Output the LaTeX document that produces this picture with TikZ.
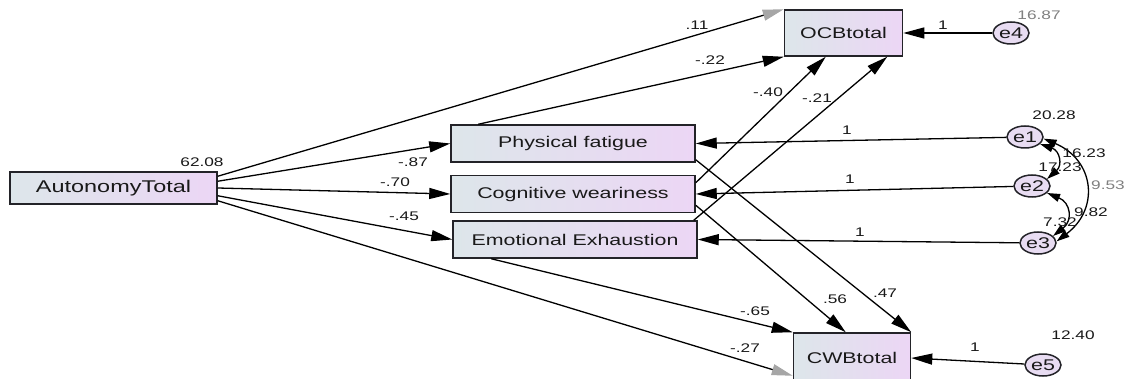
\documentclass[tikz,border=0pt]{standalone}
\usepackage{fontspec}
\setmainfont{Liberation Sans}[FakeStretch=1.38]
\usepackage{xcolor}
\usepackage{tikz}
\usetikzlibrary{shapes,arrows,arrows.meta,positioning}

\definecolor{boxleft}{RGB}{221,230,234}
\definecolor{boxright}{RGB}{236,214,245}
\definecolor{errfill}{RGB}{232,220,242}
\definecolor{framegray}{RGB}{35,35,40}

\begin{document}
\begin{tikzpicture}[x=1pt, y=-1pt, node distance=12pt, auto]
		% Define the styles
		\tikzstyle{obsvar}=[rectangle, draw=framegray, line width=1.5pt, left color=boxleft, right color=boxright, inner sep=0pt, text centered, font=\fontsize{15.5}{18}\selectfont, text=black!90]
		\tikzstyle{errvar}=[ellipse, draw=framegray, line width=1.5pt, fill=errfill, minimum width=36pt, minimum height=22pt, inner sep=0pt, font=\fontsize{15.5}{17}\selectfont, text=black!90]
		\tikzstyle{est}=[inner sep=0pt, font=\fontsize{12.5}{14}\selectfont, text=black!90]
		\tikzstyle{regr}=[line width=1.3pt, arrows = {-{Triangle[length=21pt,width=11pt]}}]
		\tikzstyle{regrfaded}=[line width=1.3pt, arrows = {-{Triangle[length=21pt,width=11pt,color=gray!70]}}]
		\tikzstyle{cov}=[line width=1.3pt, arrows = {{Triangle[length=13pt,width=8pt]}-{Triangle[length=13pt,width=8pt]}}]

		\useasboundingbox (0,0) rectangle (1126,379);

		% Define nodes
		\node (Auto) [obsvar, minimum width=207pt, minimum height=32pt, font=\fontsize{17}{20}\selectfont] at (113.5,188) {AutonomyTotal};
		\node (PF) [obsvar, minimum width=244pt, minimum height=37pt] at (573,143.5) {Physical fatigue};
		\node (CW) [obsvar, minimum width=244pt, minimum height=37pt, below=of PF] {Cognitive weariness};
		\node (EE) [obsvar, minimum width=244pt, minimum height=37pt, below=7pt of CW, xshift=2pt] {Emotional Exhaustion};
		\node (OCB) [obsvar, minimum width=118pt, minimum height=46pt] at (843.5,33) {OCBtotal};
		\node (CWB) [obsvar, minimum width=117pt, minimum height=50pt] at (852,358) {CWBtotal};

		\node (e1) [errvar] at (1025,137) {e1};
		\node (e2) [errvar] at (1032,186) {e2};
		\node (e3) [errvar] at (1038,243) {e3};
		\node (e4) [errvar] at (1011,33) {e4};
		\node (e5) [errvar] at (1043,365) {e5};

		% Define edges
		\draw[regrfaded] ([yshift=-5pt]Auto.north east) -- (OCB.north west);
		\draw[regr] ([yshift=-10pt]Auto.north east) -- (PF.west);
		\draw[regr] (Auto.east) -- (CW.west);
		\draw[regr] ([yshift=9pt]Auto.south east) -- (EE.west);
		\draw[regrfaded] ([yshift=4pt]Auto.south east) -- ([yshift=8pt]CWB.south west);

		\draw[regr] ([xshift=28pt]PF.north west) -- (OCB.south west);
		\draw[regr] ([yshift=-8pt]CW.north east) -- ([xshift=42pt]OCB.south west);
		\draw[regr] ([xshift=-4pt]EE.north east) -- ([xshift=-16pt]OCB.south east);

		\draw[regr] ([yshift=3pt]PF.south east) -- (CWB.north east);
		\draw[regr] ([yshift=8pt]CW.south east) -- ([xshift=53pt]CWB.north west);
		\draw[regr] ([xshift=39pt]EE.south west) -- (CWB.north west);

		\draw[regr] (e1) -- (PF.east);
		\draw[regr] (e2) -- (CW.east);
		\draw[regr] (e3) -- (EE.east);
		\draw[regr] (e4) -- (OCB.east);
		\draw[regr] (e5) -- (CWB.east);

		\draw[cov] (e1.-25) to[bend left=60, looseness=1.5] (e2.25);
		\draw[cov] (e2.-25) to[bend left=60, looseness=1.5] (e3.25);
		\draw[cov] (e1.-5) to[bend left=60, looseness=1.35] (e3.5);

		% Estimates
		\node[est] (v_auto) at (202,162) {62.08};
		\node[est] (b_ocb) at (697,25) {.11};
		\node[est] (b_pfocb) at (710,60) {-.22};
		\node[est] (b_pf) at (413,162) {-.87};
		\node[est] (b_cw) at (395,182) {-.70};
		\node[est] (b_ee) at (404,216) {-.45};
		\node[est] (b_cwocb) at (768,92) {-.40};
		\node[est] (b_eeocb) at (817,98) {-.21};
		\node[est] (b_pfcwb) at (885,293) {.47};
		\node[est] (b_cwcwb) at (835,299) {.56};
		\node[est] (b_eecwb) at (755,311) {-.65};
		\node[est] (b_cwb) at (745,348) {-.27};
		\node[est] (w_e1) at (847,130) {1};
		\node[est] (w_e2) at (850,179) {1};
		\node[est] (w_e3) at (860,232) {1};
		\node[est] (w_e4) at (943,25) {1};
		\node[est] (w_e5) at (975,347) {1};
		\node[est] (v_e1) at (1054,115) {20.28};
		\node[est] (v_e2) at (1060,167) {17.23};
		\node[est] (v_e3) at (1060,222) {7.32};
		\node[est, text=gray] (v_e4) at (1039,15) {16.87};
		\node[est] (v_e5) at (1073,335) {12.40};
		\node[est] (c_12) at (1084,153) {16.23};
		\node[est] (c_23) at (1091,212) {9.82};
		\node[est, text=gray] (c_13) at (1108,185) {9.53};
	\end{tikzpicture}
\end{document}
